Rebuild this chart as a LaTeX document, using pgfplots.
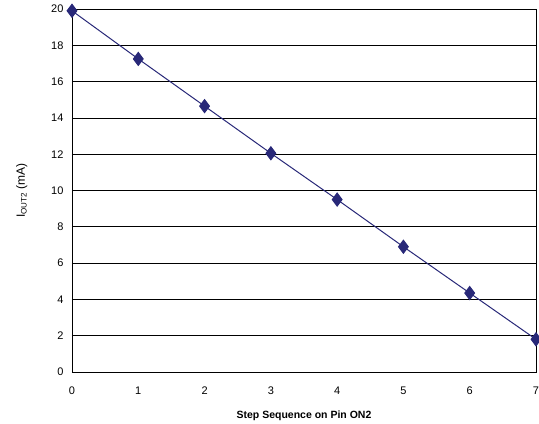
\documentclass[border=0pt]{standalone}
\usepackage{pgfplots}
\pgfplotsset{compat=1.18}
\usepackage{fontspec}
\setmainfont{Liberation Sans}
\definecolor{navy}{RGB}{40,40,120}
\begin{document}
\begin{tikzpicture}
\begin{axis}[
    scale only axis, width=464pt, height=363pt,
    xmin=0, xmax=7, ymin=0, ymax=20,
    xtick={0,...,7}, ytick={0,2,...,20},
    ymajorgrids, grid style={black, line width=0.6pt},
    axis line style={black, line width=0.8pt},
    tick style={draw=none},
    xticklabel style={yshift=-11pt},
    yticklabel style={xshift=-5pt},
    tick label style={font=\fontsize{11}{13}\selectfont},
    /pgf/number format/assume math mode=true,
    xlabel={\textbf{Step Sequence on Pin ON2}},
    xlabel style={font=\fontsize{10.5}{12}\selectfont, yshift=-10pt},
    ylabel={I\textsubscript{OUT2} (mA)},
    ylabel style={font=\fontsize{12}{14}\selectfont, yshift=17pt},
    clip=false,
]
\addplot[navy, line width=1pt, mark=diamond*, mark size=6.5pt,
    mark options={fill=navy, draw=navy}]
  coordinates {(0,19.9) (1,17.25) (2,14.65) (3,12.05) (4,9.5)
               (5,6.9) (6,4.35) (7,1.8)};
\end{axis}
\pgfresetboundingbox
\useasboundingbox ([xshift=-72pt,yshift=-52pt]current axis.south west)
  rectangle ([xshift=3pt,yshift=9pt]current axis.north east);
\end{tikzpicture}
\end{document}
